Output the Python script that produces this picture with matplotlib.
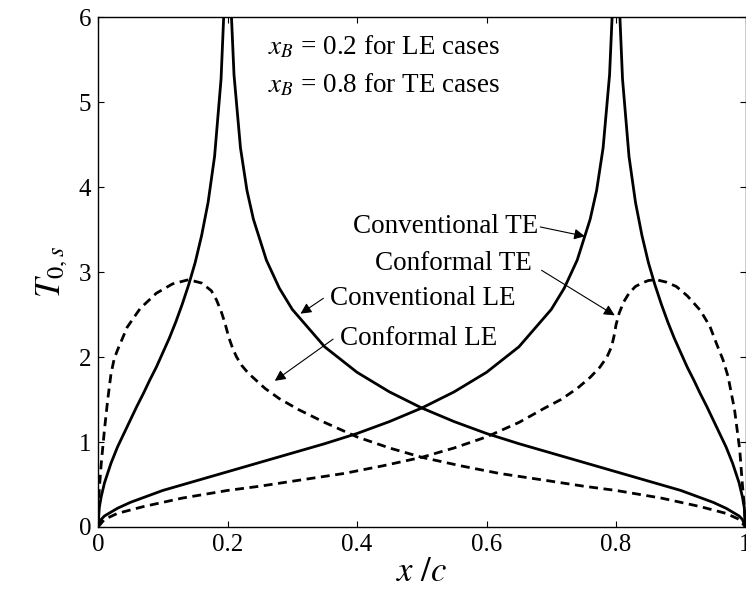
import numpy as np
import matplotlib
matplotlib.use("Agg")
import matplotlib.pyplot as plt

plt.rcParams["font.family"] = ["Liberation Serif", "DejaVu Serif"]
plt.rcParams["mathtext.fontset"] = "stix"

nan = np.nan

# conventional LE (hinge at x_B = 0.2), two branches split by nan
conv_le_x = [0, 0.002, 0.005, 0.01, 0.02, 0.03, 0.04, 0.05, 0.06, 0.07, 0.08, 0.09, 0.1,
             0.11, 0.12, 0.13, 0.14, 0.15, 0.16, 0.17, 0.18, 0.19, 0.195, nan,
             0.205, 0.21, 0.22, 0.23, 0.24, 0.26, 0.28, 0.3, 0.35, 0.4, 0.45, 0.5,
             0.55, 0.6, 0.65, 0.7, 0.75, 0.8, 0.85, 0.9, 0.95, 0.97, 0.99, 0.995, 1.0]
conv_le_y = [0, 0.23, 0.36, 0.52, 0.75, 0.94, 1.10, 1.26, 1.42, 1.57, 1.73, 1.88, 2.05,
             2.22, 2.41, 2.62, 2.85, 3.11, 3.43, 3.82, 4.36, 5.27, 6.17, nan,
             6.19, 5.32, 4.46, 3.96, 3.62, 3.14, 2.81, 2.56, 2.12, 1.82, 1.59, 1.40,
             1.24, 1.10, 0.98, 0.87, 0.76, 0.65, 0.54, 0.43, 0.29, 0.22, 0.13, 0.09, 0]

# conventional TE (hinge at x_B = 0.8)
conv_te_x = [0, 0.005, 0.01, 0.03, 0.05, 0.1, 0.15, 0.2, 0.25, 0.3, 0.35, 0.4, 0.45,
             0.5, 0.55, 0.6, 0.65, 0.7, 0.72, 0.74, 0.76, 0.77, 0.78, 0.79, 0.795, nan,
             0.805, 0.81, 0.82, 0.83, 0.84, 0.85, 0.86, 0.87, 0.88, 0.89, 0.9, 0.91,
             0.92, 0.93, 0.94, 0.95, 0.96, 0.97, 0.98, 0.99, 0.995, 0.998, 1.0]
conv_te_y = [0, 0.09, 0.13, 0.22, 0.29, 0.43, 0.54, 0.65, 0.76, 0.87, 0.98, 1.10, 1.24,
             1.40, 1.59, 1.82, 2.12, 2.56, 2.81, 3.14, 3.62, 3.96, 4.46, 5.32, 6.19, nan,
             6.17, 5.27, 4.36, 3.82, 3.43, 3.11, 2.85, 2.62, 2.41, 2.22, 2.05, 1.88,
             1.73, 1.57, 1.42, 1.26, 1.10, 0.94, 0.75, 0.52, 0.36, 0.23, 0]

# conformal LE
conf_le_x = [0, 0.002, 0.005, 0.01, 0.015, 0.02, 0.025, 0.03, 0.045, 0.065, 0.09, 0.115,
             0.14, 0.16, 0.175, 0.183, 0.19, 0.196, 0.202, 0.208, 0.214, 0.222, 0.232,
             0.245, 0.258, 0.28, 0.31, 0.35, 0.4, 0.45, 0.5, 0.56, 0.62, 0.69, 0.75,
             0.8, 0.87, 0.93, 0.97, 0.99, 1.0]
conf_le_y = [0, 0.45, 0.75, 1.15, 1.5, 1.8, 1.98, 2.08, 2.35, 2.57, 2.75, 2.86,
             2.91, 2.87, 2.78, 2.67, 2.54, 2.40, 2.23, 2.10, 2.00, 1.90, 1.81,
             1.72, 1.63, 1.51, 1.38, 1.23, 1.06, 0.93, 0.82, 0.72, 0.63, 0.55, 0.48,
             0.43, 0.34, 0.24, 0.16, 0.09, 0]

# conformal TE
conf_te_x = [0, 0.01, 0.03, 0.07, 0.13, 0.2, 0.25, 0.31, 0.38, 0.44, 0.5, 0.55, 0.6,
             0.65, 0.69, 0.715, 0.74, 0.76, 0.775, 0.786, 0.793, 0.797, 0.8, 0.805,
             0.812, 0.82, 0.83, 0.84, 0.85, 0.862, 0.878, 0.893, 0.91, 0.93, 0.945,
             0.955, 0.965, 0.973, 0.983, 0.991, 0.995, 0.998, 1.0]
conf_te_y = [0, 0.09, 0.16, 0.24, 0.34, 0.43, 0.48, 0.55, 0.63, 0.72, 0.82, 0.93, 1.06,
             1.23, 1.40, 1.50, 1.63, 1.76, 1.88, 2.00, 2.12, 2.25, 2.38, 2.52,
             2.65, 2.75, 2.83, 2.87, 2.90, 2.91, 2.88, 2.83, 2.72, 2.55, 2.36,
             2.16, 1.97, 1.77, 1.38, 0.91, 0.51, 0.25, 0]

xticks = [0, 0.2, 0.4, 0.6, 0.8, 1]
xticklabels = ["0", "0.2", "0.4", "0.6", "0.8", "1"]
yticks = [0, 1, 2, 3, 4, 5, 6]

fig = plt.figure(figsize=(7.46, 5.93), dpi=100)
ax = fig.add_axes([0.1314, 0.1113, 0.8680, 0.86])

dash = (0, (3.2, 2.0))
ax.plot(conv_le_x, conv_le_y, color="black", lw=2.0)
ax.plot(conv_te_x, conv_te_y, color="black", lw=2.0)
ax.plot(conf_le_x, conf_le_y, color="black", lw=2.0, linestyle=dash)
ax.plot(conf_te_x, conf_te_y, color="black", lw=2.0, linestyle=dash)

ax.set_xlim(0, 1)
ax.set_ylim(0, 6)
ax.set_xticks(xticks)
ax.set_xticklabels(xticklabels)
ax.set_yticks(yticks)
ax.tick_params(direction="in", top=True, right=True, length=4.5, width=0.8,
               labelsize=18, pad=5)
for s in ax.spines.values():
    s.set_linewidth(1.0)

ax.set_xlabel(r"$x\ /c$", fontsize=25, labelpad=0)
ax.set_ylabel(r"$T_{0,s}$", fontsize=25, labelpad=6)

ax.text(0.263, 5.65, r"$x_B$ = 0.2 for LE cases", fontsize=19.5, va="center")
ax.text(0.263, 5.20, r"$x_B$ = 0.8 for TE cases", fontsize=19.5, va="center")

arrow = dict(arrowstyle="-|>", lw=0.8, color="black", mutation_scale=16,
             shrinkA=0, shrinkB=0)
ax.text(0.394, 3.53, "Conventional TE", fontsize=19.5, va="center")
ax.annotate("", xy=(0.752, 3.42), xytext=(0.683, 3.53), arrowprops=arrow)
ax.text(0.4275, 3.10, "Conformal TE", fontsize=19.5, va="center")
ax.annotate("", xy=(0.798, 2.49), xytext=(0.685, 3.02), arrowprops=arrow)
ax.text(0.358, 2.69, "Conventional LE", fontsize=19.5, va="center")
ax.annotate("", xy=(0.3127, 2.51), xytext=(0.348, 2.69), arrowprops=arrow)
ax.text(0.373, 2.22, "Conformal LE", fontsize=19.5, va="center")
ax.annotate("", xy=(0.273, 1.72), xytext=(0.363, 2.21), arrowprops=arrow)

fig.savefig("out.png", dpi=100)
